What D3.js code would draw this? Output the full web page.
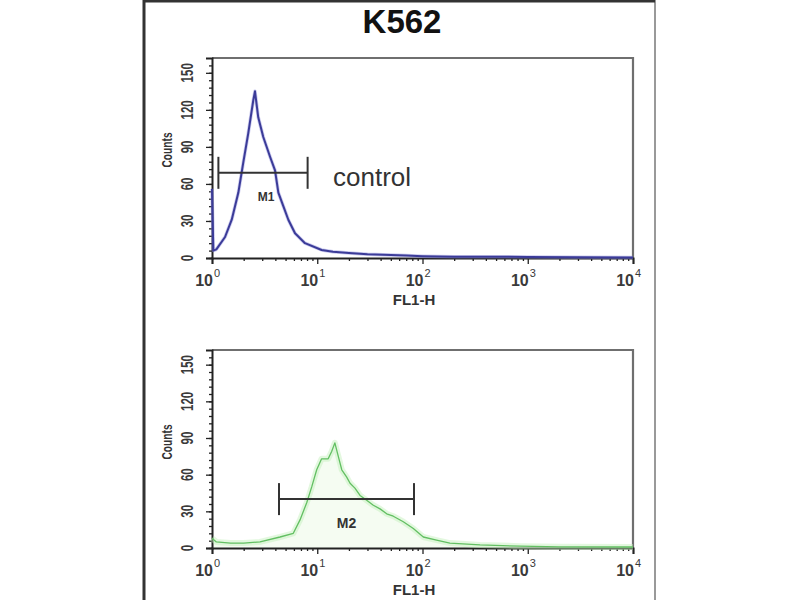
<!DOCTYPE html>
<html><head><meta charset="utf-8">
<script src="https://cdn.jsdelivr.net/npm/d3@7"></script>
<style>body{margin:0;background:#fff}svg{display:block}text{font-family:"Liberation Sans",Arial,sans-serif}</style>
</head><body>
<svg id="c" width="800" height="600"></svg>
<script>
// ---- data ----
const title = "K562";
const xTickValues = [1, 10, 100, 1000, 10000];
const xTickExps = ["0", "1", "2", "3", "4"];
const yTicks = [0, 30, 60, 90, 120, 150];
const yMax = 162;

const controlFL =     [1, 1.03, 1.1, 1.33, 1.54, 1.78, 1.98, 2.21, 2.47, 2.56, 2.75, 3.07, 3.56, 3.97, 4.27, 4.76, 5.31, 6.15, 7.65, 11.0, 14.1, 20, 30, 50, 70, 100, 200, 500, 1000, 3000, 10000];
const controlCounts = [56, 6, 7, 17, 31, 53, 77, 101, 128, 135, 114, 98, 82, 71, 53, 42, 31, 20, 12, 6.5, 5, 4, 3, 2.5, 2, 1.5, 1, 1, 0.8, 0.6, 0.5];

const sampleFL =     [1, 1.1, 1.5, 2, 2.86, 4.43, 5.92, 6.86, 7.94, 8.86, 9.88, 11.0, 12.7, 13.7, 14.7, 15.85, 17.1, 19.05, 20.5, 22.8, 25.5, 29.5, 34.1, 39.5, 45.7, 52.8, 65.7, 81.8, 101.8, 136, 182, 352, 844, 2000, 10000];
const sampleCounts = [8, 5, 4, 4, 5, 9, 12, 23, 37, 50, 64, 73, 73, 79, 86, 75, 64, 58, 53, 49, 43, 39, 35, 32, 28, 26, 21.5, 16, 9, 6.5, 4, 2.5, 1.5, 1, 0.8];

const markerNames = ["M1", "M2"];
const markerRanges = [[1.15, 8.1], [4.33, 83]];
const markerLevels = [69, 40];
const controlLabel = "control";
const xLabel = "FL1-H";
const yLabel = "Counts";

// ---- drawing ----
const svg = d3.select("#c");
const L = 212, R = 633;
const panels = [
  {top: 58, bottom: 258, fl: controlFL, counts: controlCounts, line: "#3b3b98", halo: "#8c8cdc", fill: null},
  {top: 350, bottom: 548, fl: sampleFL, counts: sampleCounts, line: "#62bf62", halo: "#c2f0b8", fill: "#e8f8e2"}
];

// outer frame
svg.append("line").attr("x1", 144).attr("x2", 144).attr("y1", 0).attr("y2", 600).attr("stroke", "#333").attr("stroke-width", 3);
svg.append("line").attr("x1", 655).attr("x2", 655).attr("y1", 0).attr("y2", 600).attr("stroke", "#999").attr("stroke-width", 2);
svg.append("line").attr("x1", 144).attr("x2", 655).attr("y1", 1).attr("y2", 1).attr("stroke", "#333").attr("stroke-width", 3);

svg.append("text").attr("x", 402).attr("y", 33).attr("text-anchor", "middle")
  .attr("font-size", 33).attr("font-weight", "bold").attr("fill", "#111").text(title);

const x = d3.scaleLog().domain([1, 10000]).range([L, R]);
const minorX = [];
[1, 10, 100, 1000].forEach(d => { for (let k = 2; k <= 9; k++) minorX.push(d * k); });
const minorY = d3.range(0, yMax, 6);

panels.forEach((p, i) => {
  const y = d3.scaleLinear().domain([0, yMax]).range([p.bottom, p.top]);
  const g = svg.append("g");

  // box top/right
  g.append("path").attr("d", `M${L},${p.top}H${R}V${p.bottom}`).attr("fill", "none")
    .attr("stroke", "#6f6f6f").attr("stroke-width", 2.2);

  const data = p.fl.map((v, j) => [v, p.counts[j]]);
  const lineGen = d3.line().x(d => x(d[0])).y(d => y(d[1]));
  if (p.fill) {
    const areaGen = d3.area().x(d => x(d[0])).y0(p.bottom).y1(d => y(d[1]));
    g.append("path").attr("d", areaGen(data)).attr("fill", p.fill).attr("opacity", 0.45);
  }

  // axes
  const ax = g.append("g").attr("transform", `translate(0,${p.bottom})`)
    .call(d3.axisBottom(x).tickValues(xTickValues).tickSize(6).tickFormat(""));
  const axm = g.append("g").attr("transform", `translate(0,${p.bottom})`)
    .call(d3.axisBottom(x).tickValues(minorX).tickSize(3).tickFormat(""));
  axm.select(".domain").remove();
  const ay = g.append("g").attr("transform", `translate(${L},0)`)
    .call(d3.axisLeft(y).tickValues(yTicks).tickSize(6).tickFormat(""));
  const aym = g.append("g").attr("transform", `translate(${L},0)`)
    .call(d3.axisLeft(y).tickValues(minorY).tickSize(3).tickFormat(""));
  aym.select(".domain").remove();
  [ax, ay].forEach(a => a.select(".domain").attr("stroke", "#222").attr("stroke-width", 2));
  g.selectAll(".tick line").attr("stroke", "#222").attr("stroke-width", 1.3);

  // curve on top of axes
  g.append("path").attr("d", lineGen(data)).attr("fill", "none").attr("stroke", p.halo)
    .attr("stroke-width", i === 0 ? 3.5 : 6).attr("opacity", 0.45).attr("stroke-linejoin", "round");
  g.append("path").attr("d", lineGen(data)).attr("fill", "none").attr("stroke", p.line)
    .attr("stroke-width", i === 0 ? 2 : 1.3).attr("stroke-linejoin", "round");

  // y tick labels (rotated, condensed)
  yTicks.forEach(v => {
    g.append("text").attr("transform", `translate(193,${y(v)}) rotate(-90) scale(0.72,1)`)
      .attr("text-anchor", "middle").attr("font-size", 16).attr("font-weight", "bold").attr("fill", "#3a3a3a").text(v);
  });
  g.append("text").attr("transform", `translate(172,${p.top + 92}) rotate(-90) scale(0.68,1)`)
    .attr("text-anchor", "middle").attr("font-size", 15).attr("font-weight", "bold").attr("fill", "#333").text(yLabel);

  // x tick labels 10^n
  xTickValues.forEach((v, j) => {
    const cx = x(v);
    const base = p.bottom + 28;
    g.append("text").attr("x", cx + 1).attr("y", base).attr("text-anchor", "end")
      .attr("font-size", 16).attr("font-weight", "bold").attr("fill", "#3a3a3a").text("10");
    g.append("text").attr("x", cx + 2).attr("y", base - 9).attr("text-anchor", "start")
      .attr("font-size", 11).attr("fill", "#3a3a3a").text(xTickExps[j]);
  });
  g.append("text").attr("x", 414).attr("y", p.bottom + 47).attr("text-anchor", "middle")
    .attr("font-size", 15).attr("font-weight", "bold").attr("fill", "#333").text(xLabel);

  // marker
  const mr = markerRanges[i], my = y(markerLevels[i]);
  const mg = g.append("g").attr("stroke", "#333").attr("stroke-width", 2);
  mg.append("line").attr("x1", x(mr[0])).attr("x2", x(mr[1])).attr("y1", my).attr("y2", my);
  mr.forEach(v => mg.append("line").attr("x1", x(v)).attr("x2", x(v)).attr("y1", my - 16).attr("y2", my + 16));
  g.append("text").attr("x", (x(mr[0]) + x(mr[1])) / 2 + (i === 0 ? 3 : 0)).attr("y", my + (i === 0 ? 28 : 29))
    .attr("text-anchor", "middle").attr("font-size", i === 0 ? 12 : 14).attr("font-weight", "bold")
    .attr("fill", "#333").text(markerNames[i]);

  if (i === 0) {
    g.append("text").attr("x", 333).attr("y", 186).attr("font-size", 26).attr("fill", "#333").text(controlLabel);
  }
});
</script>
</body></html>
